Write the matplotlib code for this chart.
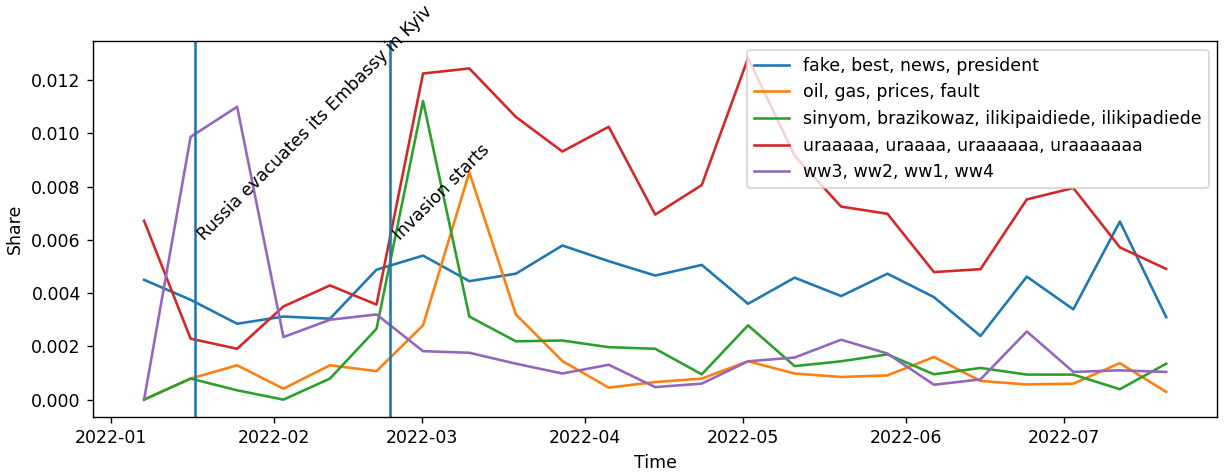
import matplotlib
matplotlib.use('Agg')
import matplotlib.pyplot as plt
import pandas as pd

# bin centres (uneven spacing)
dates = pd.to_datetime([
    '2022-01-07 07:00', '2022-01-16 03:00', '2022-01-24 23:00', '2022-02-02 18:00',
    '2022-02-11 14:00', '2022-02-20 10:00', '2022-03-01 06:00', '2022-03-10 01:00',
    '2022-03-18 21:00', '2022-03-27 17:00', '2022-04-05 12:00', '2022-04-14 08:00',
    '2022-04-23 04:00', '2022-05-01 23:00', '2022-05-10 19:00', '2022-05-19 15:00',
    '2022-05-28 10:00', '2022-06-06 06:00', '2022-06-15 02:00', '2022-06-23 21:00',
    '2022-07-02 17:00', '2022-07-11 13:00', '2022-07-20 08:00'])

fake = [0.0045, 0.00375, 0.00285, 0.00312, 0.00304, 0.00488, 0.00541, 0.00445,
        0.00473, 0.00579, 0.0052, 0.00466, 0.00506, 0.0036, 0.00458, 0.00389,
        0.00473, 0.00385, 0.00239, 0.00462, 0.00339, 0.00669, 0.0031]
oil = [0.0, 0.00079, 0.00129, 0.00041, 0.00129, 0.00107, 0.00279, 0.00854,
       0.0032, 0.00145, 0.00045, 0.00066, 0.00079, 0.00144, 0.00098, 0.00085,
       0.00091, 0.0016, 0.0007, 0.00057, 0.0006, 0.00137, 0.00029]
sinyom = [0.0, 0.00079, 0.00035, 0.0, 0.00079, 0.00266, 0.01122, 0.00312,
          0.00219, 0.00222, 0.00197, 0.00191, 0.00095, 0.00279, 0.00126, 0.00144,
          0.0017, 0.00095, 0.00119, 0.00094, 0.00094, 0.00039, 0.00135]
ura = [0.00672, 0.00229, 0.00191, 0.0035, 0.00429, 0.00357, 0.01225, 0.01244,
       0.01062, 0.00932, 0.01025, 0.00695, 0.00806, 0.01283, 0.00916, 0.00725,
       0.00698, 0.00479, 0.0049, 0.00752, 0.00795, 0.00572, 0.00491]
ww = [0.0, 0.00987, 0.0110, 0.00235, 0.0030, 0.0032, 0.00182, 0.00176,
      0.00135, 0.00098, 0.00131, 0.00047, 0.0006, 0.00144, 0.00158, 0.00225,
      0.00173, 0.00056, 0.00076, 0.00256, 0.00104, 0.0011, 0.00104]

labels = ['fake, best, news, president',
          'oil, gas, prices, fault',
          'sinyom, brazikowaz, ilikipaidiede, ilikipadiede',
          'uraaaaa, uraaaa, uraaaaaa, uraaaaaaa',
          'ww3, ww2, ww1, ww4']

events = pd.to_datetime(['2022-01-16 21:00', '2022-02-22 22:00'])
event_names = ['Russia evacuates its Embassy in Kyiv', 'Invasion starts']

DPI = 125
fig = plt.figure(figsize=(1225/DPI, 474/DPI), dpi=DPI)
ax = fig.add_subplot(111)
fig.subplots_adjust(left=0.0759, right=0.9937, top=0.9135, bottom=0.1209)

for series, lab in zip([fake, oil, sinyom, ura, ww], labels):
    ax.plot(dates, series, label=lab)

for d, name in zip(events, event_names):
    ax.axvline(d)
    ax.text(d, 0.006, name, rotation=45)

ax.legend(loc='upper right')
ax.set_xlabel('Time')
ax.set_ylabel('Share')

fig.savefig('out.png', dpi=DPI)
